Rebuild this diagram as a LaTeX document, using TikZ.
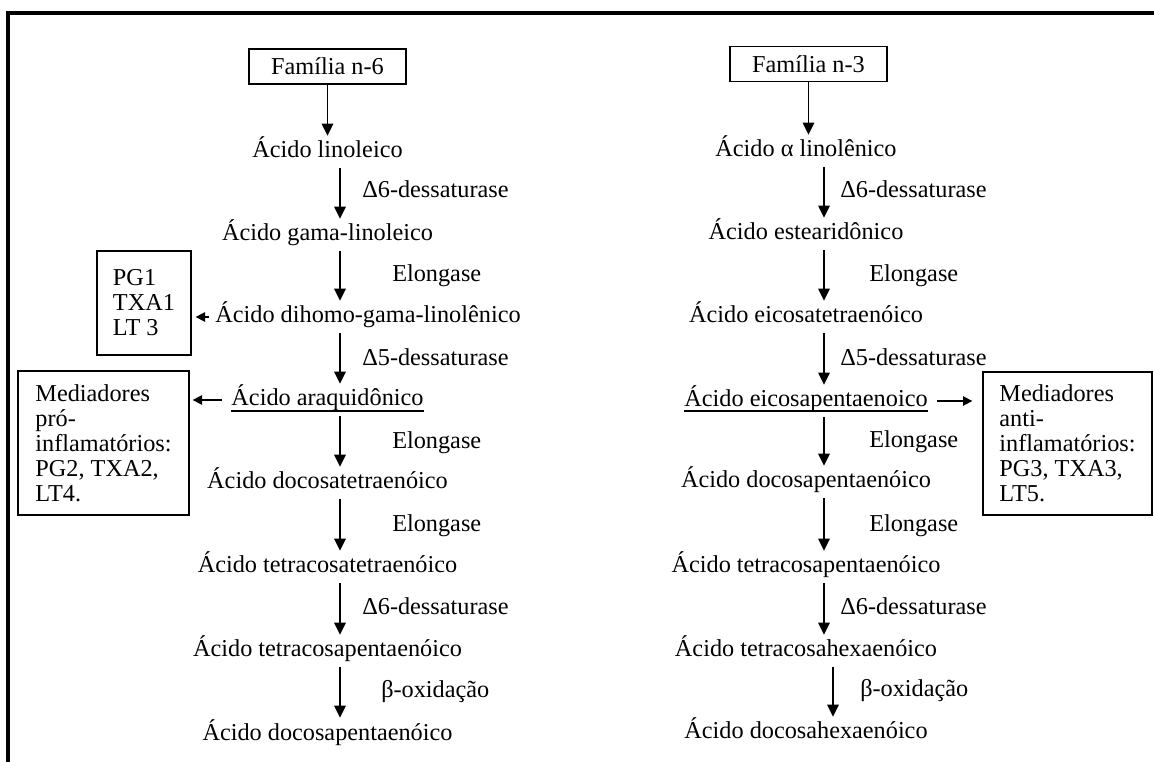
\documentclass[tikz,border=0pt]{standalone}
\usepackage{fontspec}
\setmainfont{Liberation Serif}
\usetikzlibrary{arrows.meta}

\begin{document}
\begin{tikzpicture}[
                x=0.75pt, y=-0.75pt,
                every node/.style={font=\fontsize{18.2pt}{18.75pt}\selectfont},
                acid/.style={anchor=base, inner sep=0pt, text height=16.5pt, text depth=7.5pt},
                enz/.style={anchor=base west, inner sep=0pt},
                fambox/.style={draw, line width=1pt, minimum width=117.75pt, minimum height=26.25pt, inner sep=0pt},
                medbox/.style={draw, line width=1pt, align=left, inner sep=0pt},
                arrow/.style={-{Triangle[length=9pt,width=8.5pt]}, draw=black, line width=1.2pt},
                harrow/.style={-{Triangle[length=7pt,width=7pt]}, draw=black, line width=1.2pt},
                frame/.style={line width=3pt}
            ]
                \useasboundingbox (0,0) rectangle (1154,762);
                \draw[frame] (8,800) -- (8,13) -- (1180,13);

                % familia n-6
                \node[fambox] (L0) at (327.5,66.5) {Família n-6};
                \node[acid] (L1) at (327.5,158) {Ácido linoleico};
                \node[acid] (L2) at (327.5,241) {Ácido gama-linoleico};
                \node[acid] (L3) at (368,323) {Ácido dihomo-gama-linolênico};
                \node[acid] (L4) at (327.5,406) {Ácido araquidônico};
                \node[acid] (L5) at (327.5,489) {Ácido docosatetraenóico};
                \node[acid] (L6) at (327.5,573) {Ácido tetracosatetraenóico};
                \node[acid] (L7) at (327.5,657) {Ácido tetracosapentaenóico};
                \node[acid] (L8) at (327.5,740) {Ácido docosapentaenóico};

                \node[enz] (eL1) at (362,198) {Δ6-dessaturase};
                \node[enz] (eL2) at (392,282) {Elongase};
                \node[enz] (eL3) at (362,366) {Δ5-dessaturase};
                \node[enz] (eL4) at (392,449) {Elongase};
                \node[enz] (eL5) at (392,532) {Elongase};
                \node[enz] (eL6) at (362,615) {Δ6-dessaturase};
                \node[enz] (eL7) at (381,698) {β-oxidação};

                \node[medbox, minimum width=70.5pt, minimum height=78pt] (pg1) at (144,303) {PG1\\TXA1\\LT 3};
                \node[medbox, minimum width=128.25pt, minimum height=108pt] (medL) at (103.5,443) {Mediadores\\pró-\\inflamatórios:\\PG2, TXA2,\\LT4.};

                % familia n-3
                \node[fambox] (R0) at (808.5,64) {Família n-3};
                \node[acid] (R1) at (806,157) {Ácido α linolênico};
                \node[acid] (R2) at (806,240) {Ácido estearidônico};
                \node[acid] (R3) at (806,323) {Ácido eicosatetraenóico};
                \node[acid] (R4) at (806,407) {Ácido eicosapentaenoico};
                \node[acid] (R5) at (806,488) {Ácido docosapentaenóico};
                \node[acid] (R6) at (806,573) {Ácido tetracosapentaenóico};
                \node[acid] (R7) at (806,657) {Ácido tetracosahexaenóico};
                \node[acid] (R8) at (806,739) {Ácido docosahexaenóico};

                \node[enz] (eR1) at (840,198) {Δ6-dessaturase};
                \node[enz] (eR2) at (869,282) {Elongase};
                \node[enz] (eR3) at (840,366) {Δ5-dessaturase};
                \node[enz] (eR4) at (869,448) {Elongase};
                \node[enz] (eR5) at (869,532) {Elongase};
                \node[enz] (eR6) at (840,615) {Δ6-dessaturase};
                \node[enz] (eR7) at (860,697) {β-oxidação};

                \node[medbox, minimum width=126.75pt, minimum height=107.25pt] (medR) at (1067.5,443.5) {Mediadores\\anti-\\inflamatórios:\\PG3, TXA3,\\LT5.};

                % underlines
                \draw[line width=0.8pt] ([yshift=-3.75pt]L4.base west) -- ([yshift=-3.75pt]L4.base east);
                \draw[line width=0.8pt] ([yshift=-3pt]R4.base west) -- ([yshift=-3pt]R4.base east);

                \coordinate (sL) at (340,0);
                \coordinate (sR) at (824,0);
                \coordinate (sRb) at (833,0);

                \draw[arrow] (L0.south) -- (L1.north -| L0.south);
                \draw[arrow] (L1.south -| sL) -- (L2.north -| sL);
                \draw[arrow] (L2.south -| sL) -- (L3.north -| sL);
                \draw[arrow] (L3.south -| sL) -- (L4.north -| sL);
                \draw[arrow] (L4.south -| sL) -- (L5.north -| sL);
                \draw[arrow] (L5.south -| sL) -- (L6.north -| sL);
                \draw[arrow] (L6.south -| sL) -- (L7.north -| sL);
                \draw[arrow] (L7.south -| sL) -- (L8.north -| sL);

                \draw[arrow] (R0.south) -- (R1.north -| R0.south);
                \draw[arrow] (R1.south -| sR) -- (R2.north -| sR);
                \draw[arrow] (R2.south -| sR) -- (R3.north -| sR);
                \draw[arrow] (R3.south -| sR) -- (R4.north -| sR);
                \draw[arrow] (R4.south -| sR) -- (R5.north -| sR);
                \draw[arrow] (R5.south -| sR) -- (R6.north -| sR);
                \draw[arrow] (R6.south -| sR) -- (R7.north -| sR);
                \draw[arrow] (R7.south -| sRb) -- (R8.north -| sRb);

                \draw[harrow, shorten <=4.5pt, shorten >=3pt] (L3.west) -- (pg1.east |- L3.west);
                \draw[harrow, shorten <=6.75pt, shorten >=2.25pt] (L4.west) -- (medL.east |- L4.west);
                \draw[harrow, shorten <=6.75pt, shorten >=7.5pt] (R4.east) -- (medR.west |- R4.east);
            \end{tikzpicture}
\end{document}
